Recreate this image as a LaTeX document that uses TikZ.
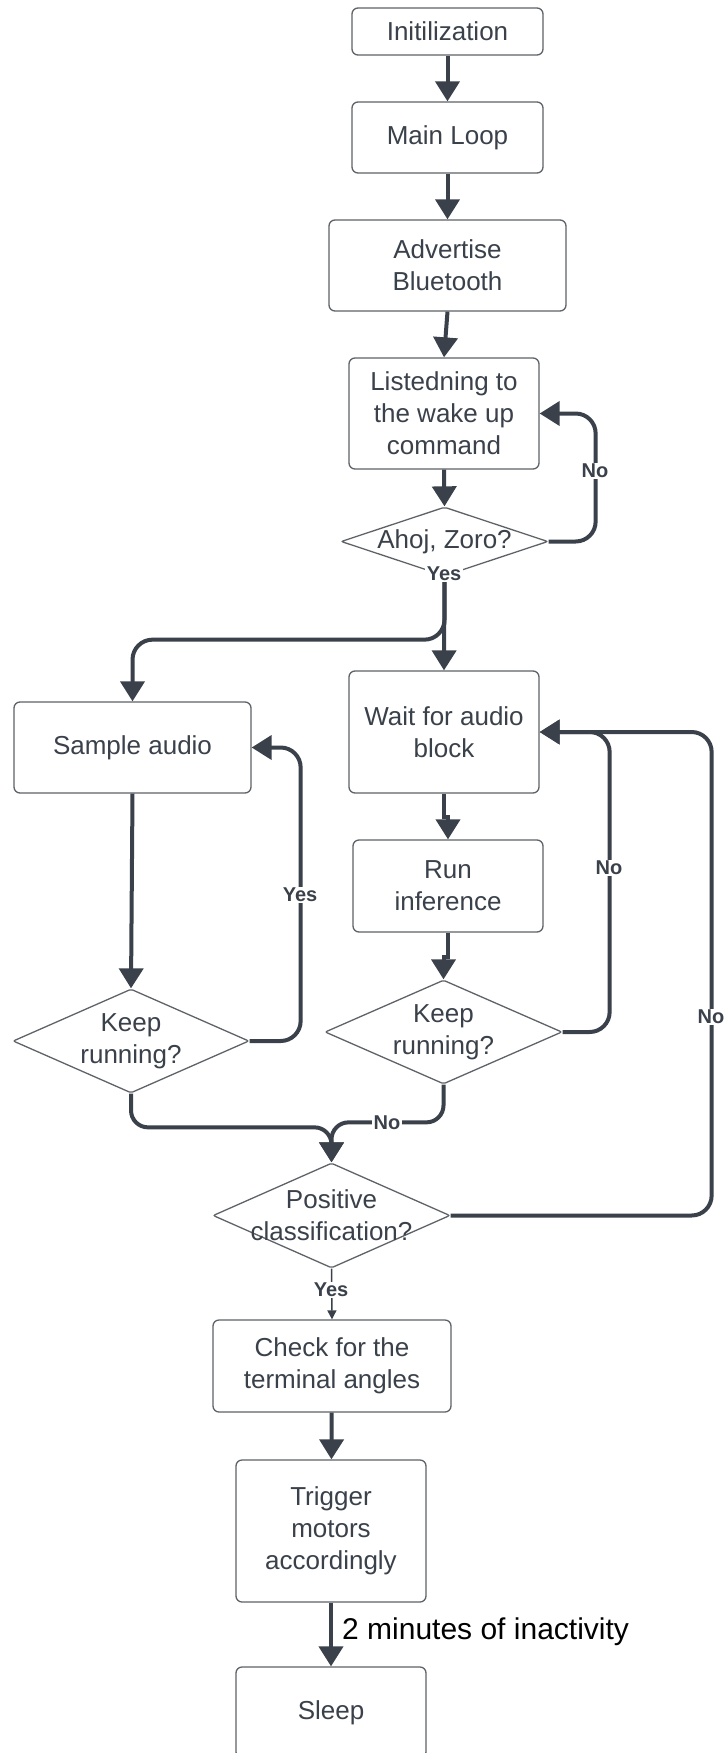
\documentclass[tikz,border=0pt]{standalone}
\usepackage{fontspec}
\setmainfont{Liberation Sans}
\usetikzlibrary{arrows.meta,shapes.geometric}
\definecolor{ln}{HTML}{3A414A}
\definecolor{bd}{HTML}{5F6368}
\definecolor{tx}{HTML}{3A414A}
\begin{document}
\begin{tikzpicture}[x=1pt,y=-1pt,
 box/.style={draw=bd, line width=1.3pt, rounded corners=6pt, fill=white, text=tx,
   font=\fontsize{26}{32}\selectfont, align=center, inner sep=0pt},
 dia/.style={diamond, draw=bd, line width=1.3pt, fill=white, inner sep=0pt, rounded corners=2pt},
 dtext/.style={text=tx, font=\fontsize{26}{32}\selectfont, align=center, inner sep=0pt},
 conn/.style={draw=ln, line width=4pt, rounded corners=20pt, -{Triangle[width=24pt,length=20pt]}},
 jog/.style={conn, sharp corners},
 lab/.style={text=ln, font=\bfseries\fontsize{20}{24}\selectfont, fill=white, inner sep=1.5pt},
]
\useasboundingbox (0,0) rectangle (726,1753);
\clip (0,0) rectangle (726,1753);
\fill[white] (0,0) rectangle (726,1753);

% nodes
\node[box, minimum width=191pt, minimum height=47pt] (init) at (447.5,31.5) {Initilization};
\node[box, minimum width=191pt, minimum height=71pt] (main) at (447.5,137.5) {Main Loop};
\node[box, minimum width=237pt, minimum height=91pt] (adv) at (447.5,265.5) {Advertise\\Bluetooth};
\node[box, minimum width=190pt, minimum height=111pt] (listen) at (444,413.5) {Listedning to\\the wake up\\command};
\node[dia, minimum width=207pt, minimum height=69pt, label={[dtext]center:Ahoj, Zoro?}] (ahoj) at (444.5,541.5) {};
\node[box, minimum width=237pt, minimum height=91pt] (sample) at (132.5,747.5) {Sample audio};
\node[box, minimum width=190pt, minimum height=122pt] (wait) at (444,732) {Wait for audio\\block};
\node[box, minimum width=190pt, minimum height=92pt] (run) at (448,886) {Run\\inference};
\node[dia, minimum width=236pt, minimum height=104pt, label={[dtext]center:Keep\\running?}] (keepL) at (131,1041) {};
\node[dia, minimum width=237pt, minimum height=104pt, label={[dtext]center:Keep\\running?}] (keepR) at (443.5,1032) {};
\node[dia, minimum width=237pt, minimum height=105pt, label={[dtext]center:Positive\\classification?}] (pos) at (331.5,1215.5) {};
\node[box, minimum width=238pt, minimum height=92pt] (check) at (332,1366) {Check for the\\terminal angles};
\node[box, minimum width=190pt, minimum height=142pt] (trig) at (331,1531) {Trigger\\motors\\accordingly};
\node[box, minimum width=190pt, minimum height=91pt] (sleep) at (331,1712.5) {Sleep};

% connectors
\draw[conn] (init) -- (main);
\draw[conn] (main) -- (adv);
\draw[conn] (adv.south) -- (listen.north);
\draw[conn] (listen.south) -- (ahoj.north);
\draw[conn] (ahoj.east) -| ([xshift=56pt]listen.east) -- (listen.east);
\draw[conn] (ahoj.south) -- (wait.north);
\draw[conn] (ahoj.south) -- ++(0,63) -| (sample.north);
\draw[conn] (sample.south) -- (keepL.north);
\draw[conn] (keepL.east) -| ([xshift=49pt]sample.east) -- (sample.east);
\draw[jog] (wait.south) -- ++(0,23) -| (run.north);
\draw[jog] (run.south) -- ++(0,24) -| (keepR.north);
\draw[conn] (keepR.east) -| ([xshift=70pt]wait.east) -- (wait.east);
\draw[conn] (pos.east) -| ([xshift=172pt]wait.east) -- (wait.east);
\draw[conn, rounded corners=17pt] (keepL.south) |- ([yshift=35pt]pos.north) -- (pos.north);
\draw[conn, rounded corners=17pt] (keepR.south) |- ([yshift=40pt]pos.north) -- (pos.north);
\draw[draw=ln, line width=1.5pt, -{Triangle[width=9pt,length=9pt]}] (pos.south) -- (check.north);
\draw[conn] (check) -- (trig);
\draw[conn] (trig) -- (sleep);

% labels
\node[lab] (l1) at (595,471) {No};
\node[lab] (l2) at (444,574) {Yes};
\node[lab] (l3) at (300,895) {Yes};
\node[lab] (l4) at (609,868) {No};
\node[lab] (l5) at (711,1017) {No};
\node[lab] (l6) at (387,1123) {No};
\node[lab] (l7) at (331,1290) {Yes};
\node[anchor=west, inner sep=0pt, font=\fontsize{30}{36}\selectfont, text=black] (l8) at (342,1632) {2 minutes of inactivity};
\end{tikzpicture}
\end{document}
